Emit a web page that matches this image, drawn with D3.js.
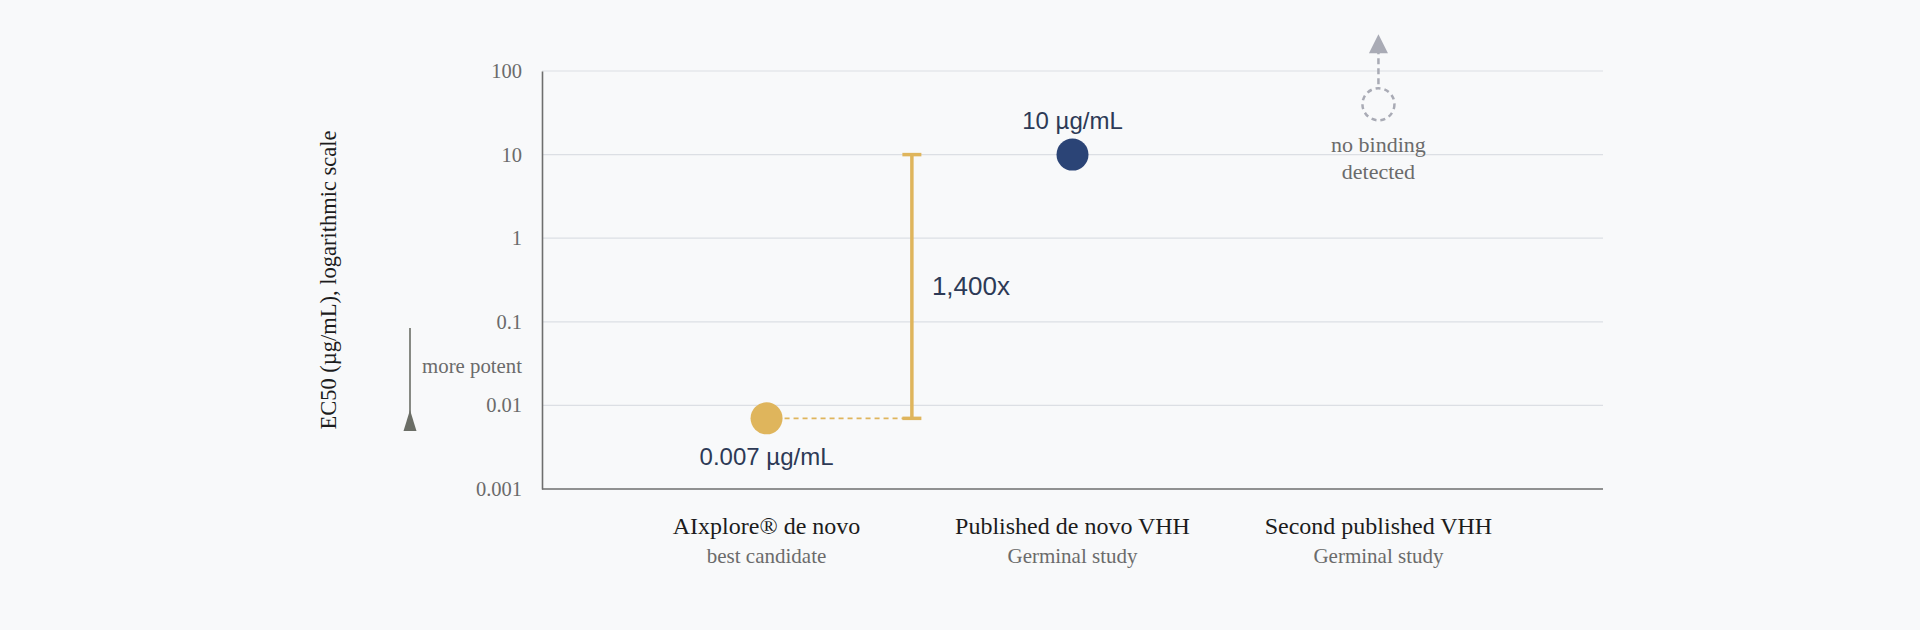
<!DOCTYPE html>
<html>
<head>
<meta charset="utf-8">
<script src="https://cdn.jsdelivr.net/npm/d3@7"></script>
<style>
  html, body { margin: 0; padding: 0; background: #f8f9fa; }
  #chart { width: 1920px; height: 630px; }
</style>
</head>
<body>
<div id="chart"></div>
<script>
// Data
var categories = ["AIxplore® de novo", "Published de novo VHH", "Second published VHH"];
var subtitles = ["best candidate", "Germinal study", "Germinal study"];
var ec50 = [0.007, 10, null];          // null = no binding detected
var valueLabels = ["0.007 µg/mL", "10 µg/mL", ""];
var pointColors = ["#dfb55c", "#2b4476", "#a9abb5"];
var yTicks = [0.001, 0.01, 0.1, 1, 10, 100];
var yTickLabels = ["0.001", "0.01", "0.1", "1", "10", "100"];
var noBindingPlot = 40;                // where the open marker sits (off the measurable range)
var foldLabel = "1,400x";

var w = 1920;
var h = 630;
var margin = { left: 542, right: 317, top: 71, bottom: 141 };

var svg;

function draw() {
    svg = d3.select("#chart").append("svg")
        .attr("width", w)
        .attr("height", h);

    var x = d3.scalePoint()
        .domain(categories)
        .range([margin.left, w - margin.right])
        .padding(0.734);

    var y = d3.scaleLog()
        .domain([0.001, 100])
        .range([h - margin.bottom, margin.top]);

    var serif = "'Liberation Serif', 'Times New Roman', serif";
    var sans = "'Liberation Sans', Arial, sans-serif";

    // Grid
    svg.append("g")
        .selectAll("line")
        .data(yTicks.slice(1))
        .enter()
        .append("line")
        .attr("x1", margin.left)
        .attr("x2", w - margin.right)
        .attr("y1", function (d) { return y(d); })
        .attr("y2", function (d) { return y(d); })
        .attr("stroke", "#dcdfe4")
        .attr("stroke-width", 1.2);

    // Y axis
    var yAxis = d3.axisLeft(y)
        .tickValues(yTicks)
        .tickFormat(function (d, i) { return yTickLabels[i]; })
        .tickSize(0)
        .tickPadding(20);

    var gy = svg.append("g")
        .attr("transform", "translate(" + margin.left + ",0)")
        .call(yAxis);
    gy.select(".domain").attr("stroke", "#6e6e6e").attr("stroke-width", 1.6);
    gy.selectAll("text")
        .attr("font-family", serif)
        .attr("font-size", 20.5)
        .attr("fill", "#6b6b6b");

    // X axis
    var xAxis = d3.axisBottom(x).tickSize(0).tickFormat("");
    var gx = svg.append("g")
        .attr("transform", "translate(0," + (h - margin.bottom) + ")")
        .call(xAxis);
    gx.select(".domain")
        .attr("d", "M" + margin.left + ",0H" + (w - margin.right))
        .attr("stroke", "#6e6e6e").attr("stroke-width", 1.6);

    // Category labels
    var cats = svg.append("g");
    cats.selectAll("text.cat")
        .data(categories)
        .enter()
        .append("text")
        .attr("class", "cat")
        .attr("x", function (d) { return x(d); })
        .attr("y", h - margin.bottom + 45)
        .attr("text-anchor", "middle")
        .attr("font-family", serif)
        .attr("font-size", 24)
        .attr("fill", "#1c1c1c")
        .text(function (d) { return d; });
    cats.selectAll("text.sub")
        .data(subtitles)
        .enter()
        .append("text")
        .attr("class", "sub")
        .attr("x", function (d, i) { return x(categories[i]); })
        .attr("y", h - margin.bottom + 74)
        .attr("text-anchor", "middle")
        .attr("font-family", serif)
        .attr("font-size", 21)
        .attr("fill", "#6b6b6b")
        .text(function (d) { return d; });

    // Y axis title
    svg.append("text")
        .attr("transform", "translate(336," + 280 + ") rotate(-90)")
        .attr("text-anchor", "middle")
        .attr("font-family", serif)
        .attr("font-size", 22.5)
        .attr("fill", "#1c1c1c")
        .text("EC50 (µg/mL), logarithmic scale");

    // "more potent" hint
    svg.append("line")
        .attr("x1", 410).attr("x2", 410)
        .attr("y1", 328).attr("y2", 416)
        .attr("stroke", "#6b6e66")
        .attr("stroke-width", 1.6);
    svg.append("path")
        .attr("d", "M410,410L416.5,431L403.5,431Z")
        .attr("fill", "#6b6e66");
    svg.append("text")
        .attr("x", 522)
        .attr("y", 373)
        .attr("text-anchor", "end")
        .attr("font-family", serif)
        .attr("font-size", 20.8)
        .attr("fill", "#6b6b6b")
        .text("more potent");

    // Fold-change bracket
    var step = x.step();
    var bx = x(categories[0]) + step * 0.475;
    var lo = ec50[0], hi = ec50[1];
    var gold = pointColors[0];

    svg.append("line")
        .attr("x1", x(categories[0]) + 18)
        .attr("x2", bx - 6)
        .attr("y1", y(lo)).attr("y2", y(lo))
        .attr("stroke", gold)
        .attr("stroke-width", 1.6)
        .attr("stroke-dasharray", "5,4");

    svg.append("line")
        .attr("x1", bx).attr("x2", bx)
        .attr("y1", y(hi)).attr("y2", y(lo))
        .attr("stroke", gold)
        .attr("stroke-width", 3.5);
    svg.selectAll("line.cap")
        .data([hi, lo])
        .enter()
        .append("line")
        .attr("class", "cap")
        .attr("x1", bx - 9.5).attr("x2", bx + 9.5)
        .attr("y1", function (d) { return y(d); })
        .attr("y2", function (d) { return y(d); })
        .attr("stroke", gold)
        .attr("stroke-width", 3.5);

    svg.append("text")
        .attr("x", bx + 20)
        .attr("y", y(Math.sqrt(lo * hi)) + 9)
        .attr("font-family", sans)
        .attr("font-size", 26)
        .attr("fill", "#2d3a56")
        .text(foldLabel);

    // Measured points
    var measured = categories.map(function (c, i) {
        return { cat: c, v: ec50[i], label: valueLabels[i], color: pointColors[i] };
    }).filter(function (d) { return d.v !== null; });

    svg.selectAll("circle.pt")
        .data(measured)
        .enter()
        .append("circle")
        .attr("class", "pt")
        .attr("cx", function (d) { return x(d.cat); })
        .attr("cy", function (d) { return y(d.v); })
        .attr("r", 16)
        .attr("fill", function (d) { return d.color; });

    svg.selectAll("text.val")
        .data(measured)
        .enter()
        .append("text")
        .attr("class", "val")
        .attr("x", function (d) { return x(d.cat); })
        .attr("y", function (d, i) { return i == 0 ? y(d.v) + 47 : y(d.v) - 26; })
        .attr("text-anchor", "middle")
        .attr("font-family", sans)
        .attr("font-size", 24)
        .attr("fill", "#2d3a56")
        .text(function (d) { return d.label; });

    // No binding marker
    var nb = categories[2];
    var nbx = x(nb), nby = y(noBindingPlot);
    var grey = pointColors[2];

    svg.append("circle")
        .attr("cx", nbx).attr("cy", nby)
        .attr("r", 16)
        .attr("fill", "none")
        .attr("stroke", grey)
        .attr("stroke-width", 2.5)
        .attr("stroke-dasharray", "5,4");
    svg.append("line")
        .attr("x1", nbx).attr("x2", nbx)
        .attr("y1", nby - 20).attr("y2", nby - 52)
        .attr("stroke", grey)
        .attr("stroke-width", 2.5)
        .attr("stroke-dasharray", "6,4");
    svg.append("path")
        .attr("d", "M" + nbx + "," + (nby - 70) + "L" + (nbx + 9.5) + "," + (nby - 51) + "L" + (nbx - 9.5) + "," + (nby - 51) + "Z")
        .attr("fill", grey);

    svg.selectAll("text.nb")
        .data(["no binding", "detected"])
        .enter()
        .append("text")
        .attr("class", "nb")
        .attr("x", nbx)
        .attr("y", function (d, i) { return nby + 48 + i * 27; })
        .attr("text-anchor", "middle")
        .attr("font-family", serif)
        .attr("font-size", 22)
        .attr("fill", "#6b6b6b")
        .text(function (d) { return d; });
}

draw();
</script>
</body>
</html>
